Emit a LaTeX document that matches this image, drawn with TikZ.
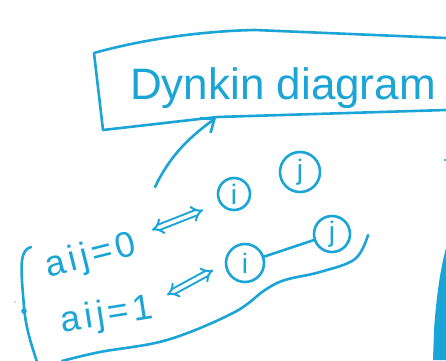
\documentclass[tikz,border=0pt]{standalone}
\usepackage{fontspec}
\setmainfont{Liberation Sans}
\usetikzlibrary{arrows.meta}
\definecolor{ink}{HTML}{1AA5D6}
\newcommand{\gapk}{\kern4pt}
\tikzset{
  pen/.style={draw=ink, line width=2.6pt, line cap=round, line join=round},
  vertex/.style={pen, circle, inner sep=0pt, minimum size=#1, text=ink, font=\fontsize{28}{28}\selectfont},
  label/.style={text=ink, inner sep=0pt, font=\fontsize{36}{36}\selectfont},
  iff/.style={draw=ink, line width=2pt, double, double distance=3.5pt, {Implies[]}-{Implies[]}},
}
\begin{document}
\begin{tikzpicture}[x=1pt,y=-1pt]
\useasboundingbox (0,0) rectangle (446,360);
% title box
\node[text=ink, inner sep=0pt, font=\fontsize{44}{44}\selectfont] (title) at (283,88) {Dynkin diagram};
\draw[pen] (446,38) -- (255,30) .. controls (200,31) and (140,40) .. (94,53) -- (103,130) -- (217,117) -- (446,110);
\coordinate (boxpt) at (216,118);
\coordinate (arrowstart) at (155,187);
\draw[pen, -{Straight Barb[length=11pt, width=18pt]}] (arrowstart) .. controls (168,160) and (185,140) .. (boxpt);
% vertices
\node[vertex=32pt] (i1) at (234,194) {i};
\node[vertex=40pt] (j1) at (300,172) {j};
\node[vertex=38pt] (i2) at (245,263) {i};
\node[vertex=36pt] (j2) at (332,234) {j};
\draw[pen] (i2) -- (j2);
% equations
\node[label, rotate=14] (eq0) at (91,257) {a\gapk i\gapk j\gapk=\gapk 0};
\node[label, rotate=9] (eq1) at (107,316) {a\gapk i\gapk j\gapk=\gapk 1};
\coordinate (a0s) at (152,230);
\coordinate (a0e) at (203,210);
\coordinate (a1s) at (167,295);
\coordinate (a1e) at (213,270);
\draw[iff] (a0s) -- (a0e);
\draw[iff] (a1s) -- (a1e);
% enclosing curve
\draw[pen] plot[smooth, tension=0.6] coordinates {(368,235) (355,259) (320,272) (285,280) (265,290) (233,313) (167,340) (100,352) (62,361)};
% brace
\draw[pen] (31,247) .. controls (21,250) and (21,262) .. (22,282) -- (24,307) .. controls (26,330) and (32,346) .. (37,362);
\draw[pen, line width=1.6pt] (24,311) circle (2pt);
% stray marks
\fill[gray!60] (15,302) circle (0.8pt);
\fill[ink] (445,160) circle (1.2pt);
\fill[ink] (446,248) .. controls (440,270) and (436,300) .. (434,330) -- (433,360) -- (446,360) -- cycle;
\end{tikzpicture}
\end{document}
